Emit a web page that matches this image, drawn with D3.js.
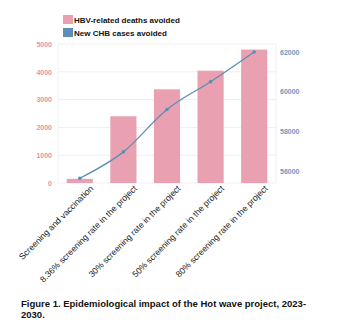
<!DOCTYPE html>
<html><head><meta charset="utf-8">
<script src="https://cdn.jsdelivr.net/npm/d3@7"></script>
<style>html,body{margin:0;padding:0;background:#fff;}svg{display:block;}</style>
</head><body>
<script>
const categories = ["Screening and vaccination","8.36% screening rate in the project","30% screening rate in the project","50% screening rate in the project","80% screening rate in the project"];
const deathsAvoided = [150, 2400, 3370, 4040, 4800];
const casesAvoided = [55630, 56960, 59100, 60500, 62000];
const leftTicks = [0,1000,2000,3000,4000,5000];
const rightTicks = [56000,58000,60000,62000];
const legendLabels = ["HBV-related deaths avoided","New CHB cases avoided"];
const caption = ["Figure 1. Epidemiological impact of the Hot wave project, 2023-","2030."];

const W=337,H=324;
const m={l:58,r:276,t:44,b:183};
const pink="#e9a0b1", blue="#5b8fb6";
const font="'Liberation Sans', Arial, sans-serif";
const svg=d3.select("body").append("svg").attr("width",W).attr("height",H).style("font-family",font);

const x=d3.scaleBand().domain(categories).range([m.l,m.r]).paddingInner(0.4).paddingOuter(0.2);
const yL=d3.scaleLinear().domain([0,5000]).range([m.b,m.t]);
const yR=d3.scaleLinear().domain([55390,62400]).range([m.b,m.t]);

// grid
svg.append("g").selectAll("line").data(leftTicks).join("line")
 .attr("x1",m.l).attr("x2",m.r).attr("y1",d=>yL(d)).attr("y2",d=>yL(d))
 .attr("stroke","#efefef").attr("stroke-width",1);
[m.l,m.r].forEach(v=>svg.append("line").attr("x1",v).attr("x2",v).attr("y1",m.t).attr("y2",m.b).attr("stroke","#f0f0f0"));

// left axis
const gl=svg.append("g").attr("transform",`translate(${m.l-6},0)`)
 .call(d3.axisLeft(yL).tickValues(leftTicks).tickFormat(d3.format("d")).tickSize(0).tickPadding(0));
gl.select(".domain").remove();
gl.selectAll("text").attr("fill","#e393a6").attr("font-size",7).attr("font-weight","bold").attr("font-family",font);

// right axis
const gr=svg.append("g").attr("transform",`translate(${m.r+4},0)`)
 .call(d3.axisRight(yR).tickValues(rightTicks).tickFormat(d3.format("d")).tickSize(0).tickPadding(0));
gr.select(".domain").remove();
gr.selectAll("text").attr("fill","#6b9bbf").attr("font-size",7).attr("font-weight","bold").attr("font-family",font);

// bars
svg.append("g").selectAll("rect").data(categories).join("rect")
 .attr("x",d=>x(d)).attr("width",x.bandwidth())
 .attr("y",(d,i)=>yL(deathsAvoided[i])).attr("height",(d,i)=>m.b-yL(deathsAvoided[i]))
 .attr("fill",pink);

// line
const cx=d=>x(d)+x.bandwidth()/2;
const line=d3.line().x(d=>cx(d[0])).y(d=>yR(d[1])).curve(d3.curveMonotoneX);
const pts=categories.map((c,i)=>[c,casesAvoided[i]]);
svg.append("path").datum(pts).attr("d",line).attr("fill","none").attr("stroke",blue).attr("stroke-width",1.3);
svg.append("g").selectAll("circle").data(pts).join("circle")
 .attr("cx",d=>cx(d[0])).attr("cy",d=>yR(d[1])).attr("r",1.8).attr("fill",blue);

// x labels
const gx=svg.append("g").attr("transform",`translate(0,${m.b})`)
 .call(d3.axisBottom(x).tickSize(0).tickPadding(0));
gx.select(".domain").remove();
gx.selectAll("text")
 .attr("font-size",8.6).attr("fill","#1a1a1a").attr("font-family",font)
 .attr("text-anchor","end").attr("dy",0).attr("y",0)
 .attr("transform","translate(14,6) rotate(-45)");

// legend
const lg=svg.append("g");
legendLabels.forEach((t,i)=>{
  lg.append("rect").attr("x",63).attr("y",15+i*13).attr("width",10).attr("height",9).attr("fill",i?blue:pink);
  lg.append("text").attr("x",74).attr("y",22.5+i*13).text(t).attr("font-size",8).attr("font-weight","bold").attr("fill","#111");
});

// caption
caption.forEach((t,i)=>svg.append("text").attr("x",21).attr("y",307+i*11).text(t)
 .attr("font-size",9.5).attr("font-weight","bold").attr("fill","#111"));
</script>
</body></html>
